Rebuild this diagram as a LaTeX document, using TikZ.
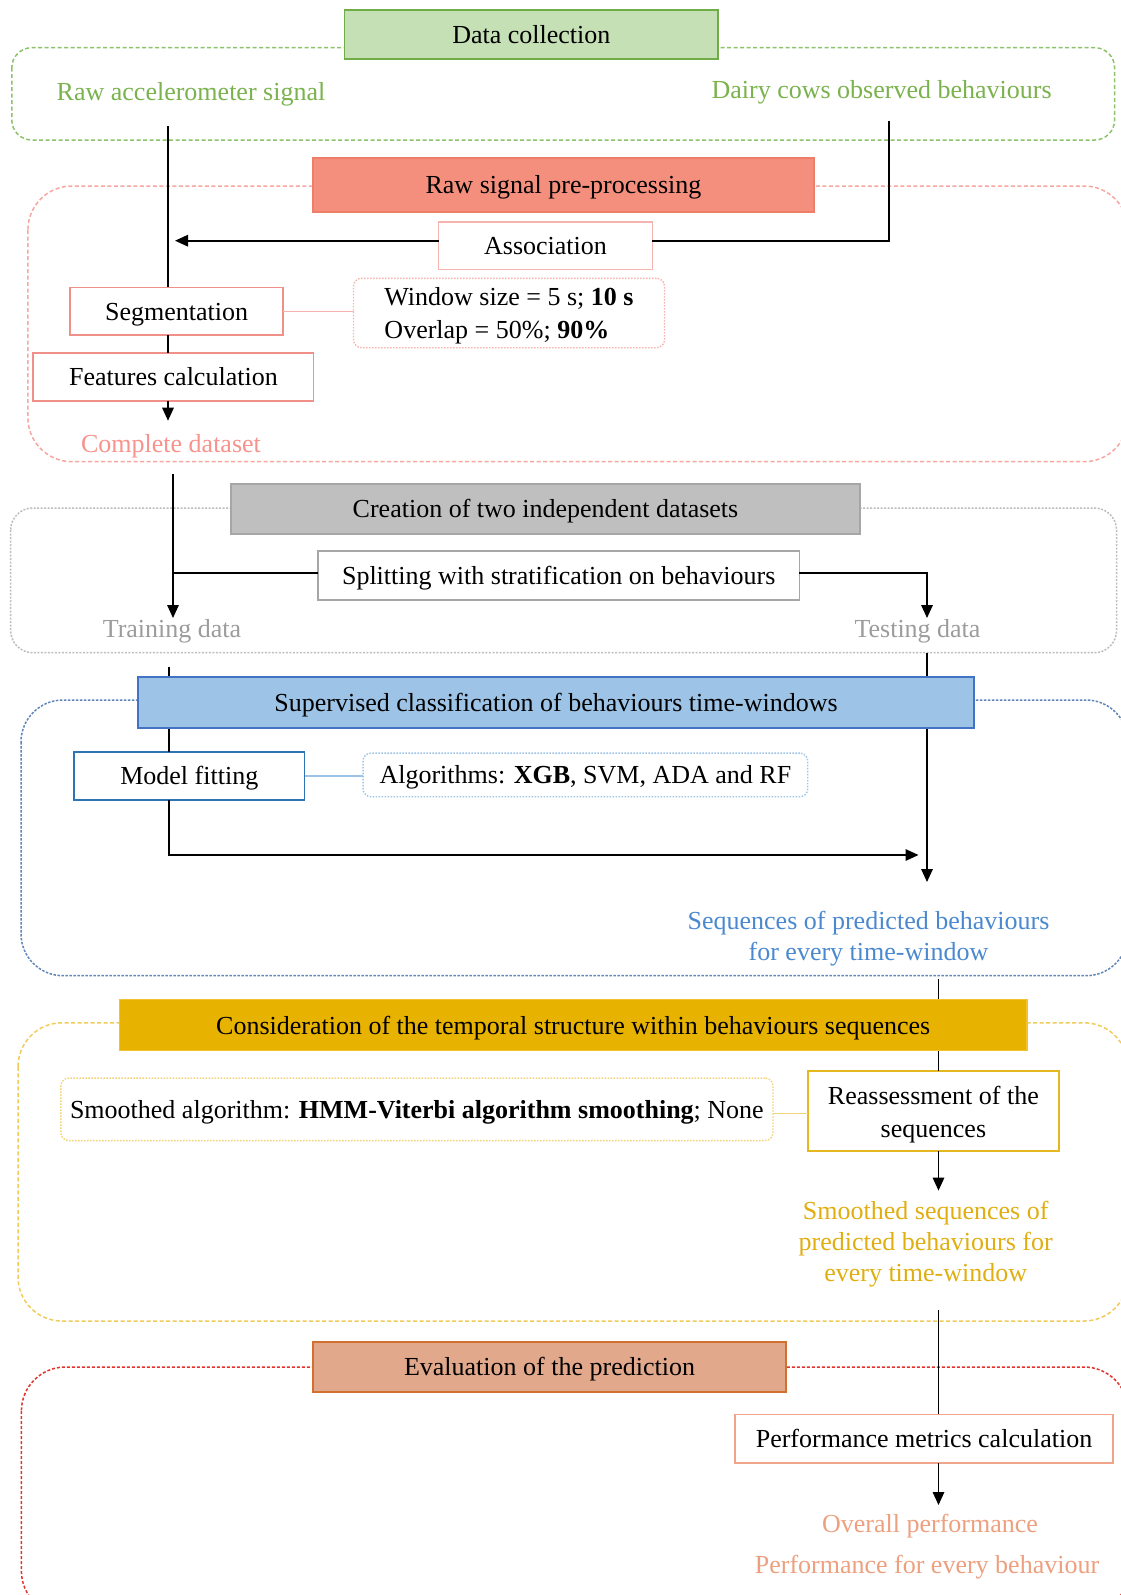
\documentclass[tikz,border=0pt]{standalone}
\usepackage{fontspec}
\setmainfont{Liberation Serif}
\usetikzlibrary{arrows.meta}
\definecolor{gFill}{HTML}{C5E0B4}
\definecolor{gLine}{HTML}{70AD47}
\definecolor{gCont}{HTML}{8CC26A}
\definecolor{gText}{HTML}{7AB24E}
\definecolor{rFill}{HTML}{F48F7D}
\definecolor{rLine}{HTML}{EE7E68}
\definecolor{rCont}{HTML}{F7A7A2}
\definecolor{rBox}{HTML}{F09088}
\definecolor{rNote}{HTML}{F5B4AE}
\definecolor{rText}{HTML}{F7928C}
\definecolor{kFill}{HTML}{BFBFBF}
\definecolor{kLine}{HTML}{A6A6A6}
\definecolor{kCont}{HTML}{BDBDBD}
\definecolor{kText}{HTML}{9C9C9C}
\definecolor{bFill}{HTML}{9DC3E6}
\definecolor{bLine}{HTML}{4472C4}
\definecolor{bCont}{HTML}{5E86B8}
\definecolor{bBox}{HTML}{2E75B6}
\definecolor{bNote}{HTML}{9DC3E6}
\definecolor{bText}{HTML}{4A89CF}
\definecolor{yFill}{HTML}{E8B300}
\definecolor{yLine}{HTML}{F2C230}
\definecolor{yCont}{HTML}{F0CB5A}
\definecolor{yBox}{HTML}{E6B820}
\definecolor{yNote}{HTML}{F0D47A}
\definecolor{yText}{HTML}{E0AE10}
\definecolor{oFill}{HTML}{E2A88B}
\definecolor{oLine}{HTML}{D2712F}
\definecolor{oCont}{HTML}{E2332E}
\definecolor{oBox}{HTML}{F0A58A}
\definecolor{oText}{HTML}{EDA07F}
\newcommand\ftxt{\fontsize{26}{32}\selectfont}
\tikzset{
  oneline/.style={text height=17.9pt, text depth=0pt},
  hdr/.style={draw, line width=1.6pt, inner sep=0pt, outer sep=0pt, font=\ftxt, text=black, oneline},
  bx/.style={draw, fill=white, line width=1.6pt, inner sep=0pt, outer sep=0pt, font=\ftxt},
  note/.style={draw, fill=white, dash pattern=on 1.5pt off 1.5pt, rounded corners=8pt, line width=1.4pt, inner sep=0pt, outer sep=0pt, font=\ftxt},
  lbl/.style={inner sep=0pt, align=center, font=\ftxt},
  multi/.style={inner sep=0pt, font=\fontsize{26}{#1}\selectfont},
  cont/.style={line width=1.5pt, dash pattern=on 4pt off 2.5pt},
  conn/.style={line width=1.6pt, draw=black},
  arr/.style={conn, -{Triangle[length=13pt,width=11.5pt]}},
  link/.style={line width=1.4pt}
}
\begin{document}
\begin{tikzpicture}[x=1pt,y=-1pt]
\useasboundingbox (0,0) rectangle (1121,1595);
% containers
\begin{scope}
\clip (0,0) rectangle (1121,1595);
\draw[cont, draw=gCont, rounded corners=20pt] (11.8,47.7) rectangle (1114.6,140);
\draw[cont, draw=rCont, rounded corners=44pt] (27.9,186) rectangle (1128,461.7);
\draw[line width=1.5pt, draw=kCont, dash pattern=on 2pt off 1.5pt, rounded corners=22pt] (10.7,508) rectangle (1116.5,652.7);
\draw[line width=1.5pt, draw=bCont, dash pattern=on 2.5pt off 1.5pt, rounded corners=42pt] (21,700) rectangle (1128,975.7);
\draw[cont, draw=yCont, rounded corners=44pt] (18,1022.8) rectangle (1128,1321);
\draw[line width=1.5pt, draw=oCont, dash pattern=on 3pt off 2pt, rounded corners=44pt] (21.4,1367) rectangle (1128,1615);
\end{scope}
% free-text labels
\node[lbl, oneline, text=gText] (rawsig) at (191,91.7) {Raw accelerometer signal};
\node[lbl, oneline, text=gText] (dairy) at (881.6,90) {Dairy cows observed behaviours};
\node[lbl, oneline, text=rText] (complete) at (171,443.3) {Complete dataset};
\node[lbl, oneline, text=kText] (train) at (172,629) {Training data};
\node[lbl, oneline, text=kText] (test) at (917.5,629) {Testing data};
\node[multi=31.5, align=center, text=bText] (seqs) at (868.5,938.8) {Sequences of predicted behaviours\\for every time-window};
\node[multi=31.2, align=center, text=yText] (smseq) at (925.7,1244.2) {Smoothed sequences of\\predicted behaviours for\\every time-window};
\node[lbl, oneline, text=oText] (overall) at (930,1523.6) {Overall performance};
\node[lbl, oneline, text=oText] (perbeh) at (927,1564.8) {Performance for every behaviour};
% boxes
\node[bx, oneline, draw=rNote, minimum width=213.7pt, minimum height=47.6pt] (assoc) at (545.5,245.5) {Association};
\node[bx, oneline, draw=rBox, minimum width=213.2pt, minimum height=47.7pt] (seg) at (176.6,311.2) {Segmentation};
\node[note, draw=rNote, minimum width=311pt, minimum height=69.4pt] (window) at (509,313) {};
\node[multi=33, align=left] (windowtxt) at (509,315.8) {Window size = 5 s; \textbf{10 s}\\Overlap = 50\%; \textbf{90\%}};
\node[bx, oneline, draw=rBox, minimum width=280.4pt, minimum height=48pt] (feat) at (173.4,376.7) {Features calculation};
\node[bx, oneline, draw=kLine, minimum width=481.5pt, minimum height=49pt] (split) at (558.7,575.5) {Splitting with stratification on behaviours};
\node[bx, oneline, draw=bBox, minimum width=230.5pt, minimum height=48.3pt] (model) at (189.3,775.9) {Model fitting};
\node[note, oneline, draw=bNote, minimum width=444.7pt, minimum height=43.7pt] (alg) at (585.4,774.9) {Algorithms: \textbf{XGB}, SVM, ADA and RF};
\node[note, oneline, draw=yNote, minimum width=712.2pt, minimum height=62.5pt] (smalg) at (416.9,1109.3) {Smoothed algorithm: \textbf{HMM-Viterbi algorithm smoothing}; None};
\node[bx, draw=yBox, minimum width=251.3pt, minimum height=80pt] (reass) at (933.4,1111) {};
\node[multi=33, align=center] (reasstxt) at (933.4,1114.5) {Reassessment of the\\sequences};
\node[bx, oneline, draw=oBox, minimum width=378pt, minimum height=48.6pt] (perf) at (924,1438.7) {Performance metrics calculation};
% connector coordinates
\coordinate (rawtop) at (168,126);
\coordinate (dairytop) at (889,120.7);
\coordinate (assoctip) at (175,240.7);
\coordinate (comptip) at (168,420.7);
\coordinate (trtop) at (173,474);
\coordinate (trtip) at (173,618);
\coordinate (tetip) at (927,618);
\coordinate (mftop) at (169,666.7);
\coordinate (tetop) at (927,653);
\coordinate (tedown) at (927,882);
\coordinate (predtip) at (918.5,855);
\coordinate (seqtop) at (938.5,979);
\coordinate (reasstip) at (938.5,1190.6);
\coordinate (smtop) at (938.5,1310);
\coordinate (perftip) at (938.5,1505);
% light links
\draw[link, draw=rNote] (seg.east) -- (seg.east -| window.west);
\draw[link, draw=bNote] (model.east) -- (model.east -| alg.west);
\draw[link, draw=yNote] ([yshift=-2.5pt]reass.west) -- ([yshift=-2.5pt]reass.west -| smalg.east);
% connectors
\draw[conn] (rawtop) -- (rawtop |- seg.north);
\draw[conn] (dairytop) |- ([yshift=4.8pt]assoc.east);
\draw[arr] ([yshift=4.8pt]assoc.west) -- (assoctip);
\draw[conn] (rawtop |- seg.south) -- (rawtop |- feat.north);
\draw[arr] (rawtop |- feat.south) -- (comptip);
\draw[arr] (trtop) -- (trtip);
\draw[conn] ([yshift=2.8pt]split.west) -- ([yshift=2.8pt]split.west -| trtop);
\draw[arr] ([yshift=2.8pt]split.east) -| (tetip);
\draw[conn] (mftop) -- (mftop |- model.north);
\draw[arr] (mftop |- model.south) |- (predtip);
\draw[arr] (tetop) -- (tedown);
\draw[conn] (seqtop) -- (seqtop |- reass.north);
\draw[arr] (seqtop |- reass.south) -- (reasstip);
\draw[conn] (smtop) -- (smtop |- perf.north);
\draw[arr] (smtop |- perf.south) -- (perftip);
% stage headers
\node[hdr, fill=gFill, draw=gLine, minimum width=373.4pt, minimum height=49pt] (datacol) at (531.3,34.5) {Data collection};
\node[hdr, fill=rFill, draw=rLine, minimum width=501pt, minimum height=54pt] (rawpre) at (563.5,185) {Raw signal pre-processing};
\node[hdr, fill=kFill, draw=kLine, minimum width=629pt, minimum height=50pt] (creation) at (545.5,509) {Creation of two independent datasets};
\node[hdr, fill=bFill, draw=bLine, minimum width=836pt, minimum height=51pt] (superv) at (556,702.5) {Supervised classification of behaviours time-windows};
\node[hdr, fill=yFill, draw=yLine, minimum width=907.6pt, minimum height=51pt] (temporal) at (573.2,1025.1) {Consideration of the temporal structure within behaviours sequences};
\node[hdr, fill=oFill, draw=oLine, minimum width=473pt, minimum height=50pt] (evalh) at (549.5,1367) {Evaluation of the prediction};
\end{tikzpicture}
\end{document}
